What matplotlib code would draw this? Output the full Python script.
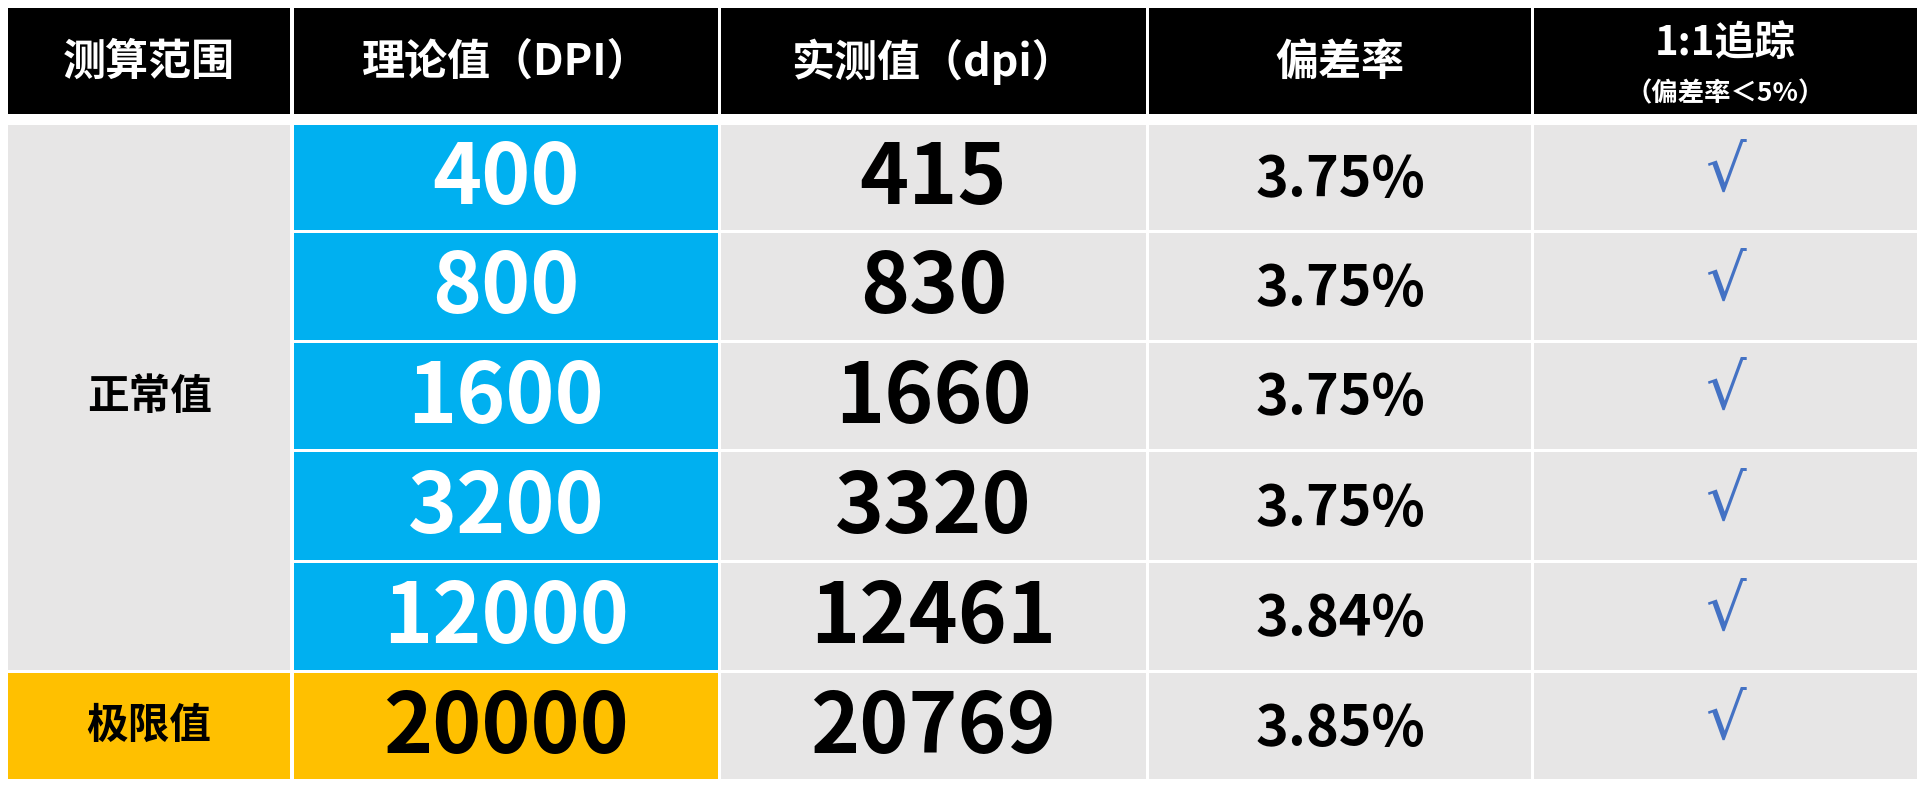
import matplotlib
matplotlib.use("Agg")
import matplotlib.pyplot as plt
from matplotlib.patches import Rectangle

plt.rcParams['font.family'] = ['Noto Sans CJK SC', 'DejaVu Sans']

headers = ["测算范围", "理论值（DPI）", "实测值（dpi）", "偏差率", "1:1追踪"]
header_note = "（偏差率＜5%）"
groups = ["正常值", "极限值"]
group_rows = [5, 1]
theory = ["400", "800", "1600", "3200", "12000", "20000"]
measured = ["415", "830", "1660", "3320", "12461", "20769"]
deviation = ["3.75%", "3.75%", "3.75%", "3.75%", "3.84%", "3.85%"]
tracking = ["√"] * 6

# layout in reference display units (1568 x 643)
col_x = [5, 237, 584, 931, 1244, 1557]
row_y = [100, 188, 277, 366, 456, 545, 634]
gap = 2.5
gray = "#E7E6E6"
blue = "#00B0F0"
orange = "#FFC000"

fig = plt.figure(figsize=(19.32, 7.92), dpi=100)
ax = fig.add_axes([0, 0, 1, 1])
ax.set_xlim(0, 1568)
ax.set_ylim(643, 0)
ax.axis("off")


def cell(x0, x1, y0, y1, color):
    ax.add_patch(Rectangle((x0 + gap / 2, y0 + gap / 2), x1 - x0 - gap, y1 - y0 - gap,
                           facecolor=color, edgecolor="none"))


# header
for i, h in enumerate(headers):
    cell(col_x[i], col_x[i + 1], 5, 94, "black")
    cx = (col_x[i] + col_x[i + 1]) / 2
    if i == 4:
        ax.text(cx, 35, h, color="white", fontsize=29, fontweight="bold", ha="center", va="center")
        ax.text(cx, 76, header_note, color="white", fontsize=19, fontweight="bold", ha="center", va="center")
    else:
        ax.text(cx, 50, h, color="white", fontsize=31, fontweight="bold", ha="center", va="center")

# group column
start = 0
for g, n in zip(groups, group_rows):
    y0, y1 = row_y[start], row_y[start + n]
    color = gray if g == "正常值" else orange
    cell(col_x[0], col_x[1], y0, y1, color)
    ax.text((col_x[0] + col_x[1]) / 2, (y0 + y1) / 2, g, fontsize=30, fontweight="bold",
            ha="center", va="center")
    start += n

for r in range(len(theory)):
    y0, y1 = row_y[r], row_y[r + 1]
    cy = (y0 + y1) / 2
    limit = r == len(theory) - 1
    cell(col_x[1], col_x[2], y0, y1, orange if limit else blue)
    ax.text((col_x[1] + col_x[2]) / 2, cy + 2, theory[r], fontsize=60, fontweight="bold",
            color="black" if limit else "white", ha="center", va="center")
    cell(col_x[2], col_x[3], y0, y1, gray)
    ax.text((col_x[2] + col_x[3]) / 2, cy + 2, measured[r], fontsize=60, fontweight="bold",
            ha="center", va="center")
    cell(col_x[3], col_x[4], y0, y1, gray)
    ax.text((col_x[3] + col_x[4]) / 2, cy + 2, deviation[r], fontsize=40, fontweight="bold",
            ha="center", va="center")
    cell(col_x[4], col_x[5], y0, y1, gray)
    ax.text((col_x[4] + col_x[5]) / 2, cy - 4, tracking[r], fontsize=46, color="#4472C4",
            family="DejaVu Sans", ha="center", va="center")

fig.savefig("out.png", dpi=100, facecolor="white")
